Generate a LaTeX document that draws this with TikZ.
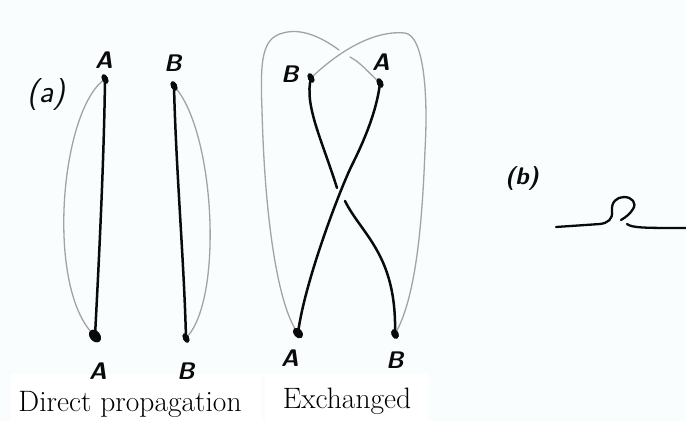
\documentclass[tikz,border=0pt]{standalone}
\usepackage{xcolor}
\usepackage{tikz}
\usetikzlibrary{shapes.geometric}
\definecolor{paper}{HTML}{F9FDFE}
\definecolor{pencil}{HTML}{A3A3A3}
\definecolor{ink}{HTML}{0A0A0A}

\begin{document}
\begin{tikzpicture}[
  x=1pt,y=-1pt,
  wire/.style={draw=ink,line width=2.5pt,line cap=round},
  ghost/.style={draw=pencil,line width=1.3pt,line cap=round},
  dot/.style={ellipse,fill=ink,inner sep=0pt,minimum width=6pt,minimum height=10pt,rotate=25},
  bigdot/.style={dot,minimum width=10pt,minimum height=14pt,rotate=15},
  hand/.style={font=\fontsize{24}{24}\selectfont\sffamily\bfseries\itshape,text=ink,inner sep=0pt},
  tag/.style={font=\fontsize{32}{32}\selectfont\sffamily\itshape,text=ink,inner sep=0pt},
  caption/.style={font=\fontsize{29.5}{32}\selectfont,text=black,inner sep=0pt,anchor=base}
]
\fill[paper] (0,0) rectangle (686,421);
\useasboundingbox (0,0) rectangle (686,421);
\fill[white] (11,374) rectangle (262,421);
\fill[white] (265,374) rectangle (428,421);

\node[tag] (taga) at (46,95) {(a)};
\node[tag,font=\fontsize{24}{24}\selectfont\sffamily\bfseries\itshape] (tagb) at (522,178) {(b)};

\node[dot]    (ta) at (105,79) {};
\node[bigdot] (ba) at (95,336) {};
\node[dot]    (tb) at (174,86) {};
\node[dot]    (bb) at (186,338) {};

\node[dot] (xtb) at (311,78) {};
\node[dot] (xta) at (380,83) {};
\node[bigdot,minimum width=8pt,minimum height=12pt] (xba) at (298,333) {};
\node[dot,minimum width=7pt] (xbb) at (395,334) {};

\node[hand] (lta) at (104,60) {A};
\node[hand] (ltb) at (173,63) {B};
\node[hand] (lba) at (98,371) {A};
\node[hand] (lbb) at (186,371) {B};
\node[hand] (lxtb) at (290,74) {B};
\node[hand] (lxta) at (381,62) {A};
\node[hand] (lxba) at (290,358) {A};
\node[hand] (lxbb) at (395,360) {B};

\draw[ghost] (ta.center) .. controls (60,110) and (45,290) .. (ba.center);
\draw[ghost] (tb.center) .. controls (215,130) and (224,300) .. (bb.center);
\draw[ghost] (xtb.center) .. controls (340,50) and (375,30) .. (405,33)
  .. controls (425,36) and (428,100) .. (425,150)
  .. controls (422,230) and (415,300) .. (xbb.center);
\draw[ghost] (xta.center) .. controls (368,72) and (360,62) .. (350,57);
\draw[ghost] (339,50) .. controls (320,36) and (300,28) .. (283,33)
  .. controls (262,38) and (260,60) .. (262,110)
  .. controls (265,230) and (280,310) .. (xba.center);

\draw[wire] (ta.center) .. controls (104,160) and (99,260) .. (ba.center);
\draw[wire] (tb.center) .. controls (176,170) and (184,260) .. (bb.center);
\draw[wire] (xta.center) .. controls (378,100) and (372,125) .. (352,165)
  .. controls (341,187) and (305,280) .. (xba.center);
\draw[wire] (xtb.center) .. controls (304,105) and (322,140) .. (337,188);
\draw[wire] (345,201) .. controls (362,235) and (397,255) .. (xbb.center);

\node[dot]    at (ta) {};
\node[bigdot] at (ba) {};
\node[dot]    at (tb) {};
\node[dot]    at (bb) {};
\node[dot]    at (xtb) {};
\node[dot]    at (xta) {};
\node[bigdot,minimum width=8pt,minimum height=12pt] at (xba) {};
\node[dot,minimum width=7pt] at (xbb) {};

\coordinate (curlin) at (556,227);
\coordinate (curlout) at (686,228);
\draw[wire,line width=2.3pt] (curlin) -- (600,224) .. controls (608,223) and (613,219) .. (612,211)
  .. controls (611,202) and (617,197) .. (624,197)
  .. controls (632,197) and (637,203) .. (633,209)
  .. controls (630,214) and (626,217) .. (621,220);
\draw[wire,line width=2.3pt] (627,224) .. controls (632,228) and (645,228) .. (curlout);

\node[caption] (capa) at (130,411) {Direct propagation};
\node[caption] (capb) at (347,408) {Exchanged};
\end{tikzpicture}
\end{document}
